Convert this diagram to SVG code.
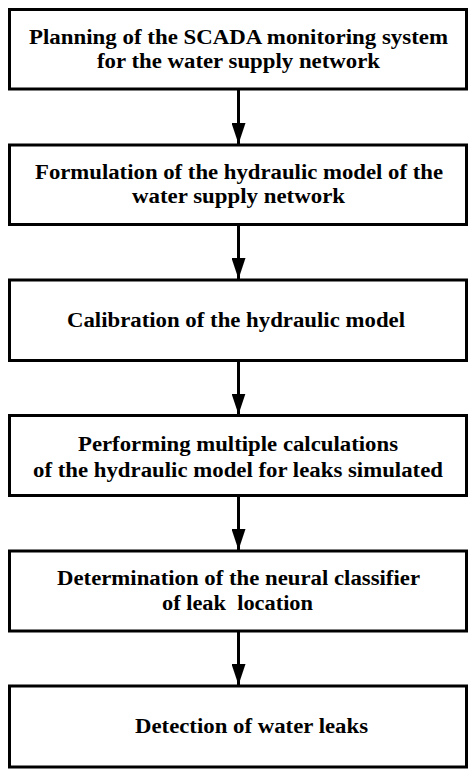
<svg xmlns="http://www.w3.org/2000/svg" width="474" height="774" viewBox="0 0 474 774">
<style>
.box{fill:#fff;stroke:#000;stroke-width:3}
.t{font-family:"Liberation Serif","Times New Roman",serif;font-weight:bold;font-size:20.5px;fill:#000;text-anchor:middle}
.c{stroke:#000;stroke-width:3;fill:none}
</style>
<defs>
<marker id="ah" markerUnits="userSpaceOnUse" markerWidth="21" markerHeight="14" refX="21" refY="7" orient="auto" viewBox="0 0 21 14">
<path d="M0,0 L21,7 L0,14 Z" fill="#000"/>
</marker>
</defs>
<rect width="474" height="774" fill="#fff"/>
<g id="connectors">
<line class="c" x1="238.5" y1="89" x2="238.5" y2="144" marker-end="url(#ah)"/>
<line class="c" x1="238.5" y1="224.5" x2="238.5" y2="279" marker-end="url(#ah)"/>
<line class="c" x1="238.5" y1="360.5" x2="238.5" y2="414.5" marker-end="url(#ah)"/>
<line class="c" x1="238.5" y1="495.5" x2="238.5" y2="550" marker-end="url(#ah)"/>
<line class="c" x1="238.5" y1="631" x2="238.5" y2="685" marker-end="url(#ah)"/>
</g>
<g id="n1">
<rect class="box" x="9.5" y="9.5" width="457" height="79.5"/>
<text class="t" x="238.5" y="44" textLength="419" lengthAdjust="spacingAndGlyphs">Planning of the SCADA monitoring system</text>
<text class="t" x="238.5" y="68" textLength="283" lengthAdjust="spacingAndGlyphs">for the water supply network</text>
</g>
<g id="n2">
<rect class="box" x="9.5" y="145" width="457" height="79.5"/>
<text class="t" x="239" y="178.5" textLength="408" lengthAdjust="spacingAndGlyphs">Formulation of the hydraulic model of the</text>
<text class="t" x="238.5" y="203" textLength="213" lengthAdjust="spacingAndGlyphs">water supply network</text>
</g>
<g id="n3">
<rect class="box" x="9.5" y="280" width="457" height="80.5"/>
<text class="t" x="236" y="326.5" textLength="338" lengthAdjust="spacingAndGlyphs">Calibration of the hydraulic model</text>
</g>
<g id="n4">
<rect class="box" x="9.5" y="415.5" width="457" height="80"/>
<text class="t" x="238" y="451" textLength="320" lengthAdjust="spacingAndGlyphs">Performing multiple calculations</text>
<text class="t" x="238" y="477" textLength="410" lengthAdjust="spacingAndGlyphs">of the hydraulic model for leaks simulated</text>
</g>
<g id="n5">
<rect class="box" x="9.5" y="551" width="457" height="80"/>
<text class="t" x="238.5" y="584.5" textLength="363" lengthAdjust="spacingAndGlyphs">Determination of the neural classifier</text>
<text class="t" x="237.5" y="610" textLength="151" lengthAdjust="spacingAndGlyphs" xml:space="preserve">of leak  location</text>
</g>
<g id="n6">
<rect class="box" x="9.5" y="686" width="457" height="81"/>
<text class="t" x="251.5" y="733" textLength="233" lengthAdjust="spacingAndGlyphs">Detection of water leaks</text>
</g>
</svg>
